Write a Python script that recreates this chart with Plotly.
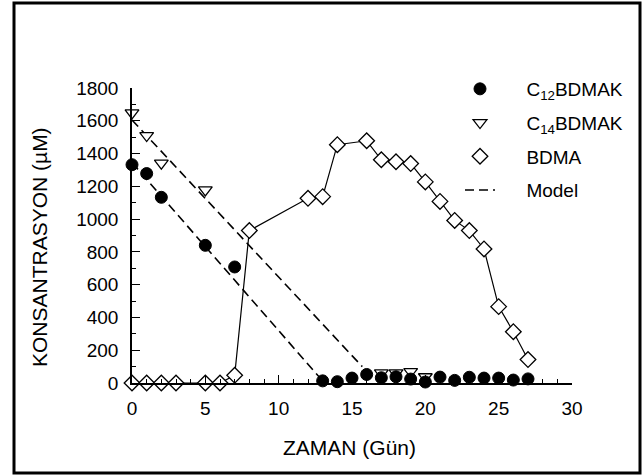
import plotly.graph_objects as go

# ---- data ----
c12_x = [0, 1, 2, 5, 7, 13, 14, 15, 16, 17, 18, 19, 20, 21, 22, 23, 24, 25, 26, 27]
c12_y = [1332, 1278, 1133, 840, 708, 13, 8, 30, 52, 32, 38, 24, 6, 36, 16, 35, 30, 30, 18, 25]

c14_x = [0, 1, 2, 5, 17, 18, 19, 20, 21, 22, 23, 24, 25, 26, 27]
c14_y = [1648, 1510, 1342, 1178, 62, 62, 70, 38, -14, -14, -14, -14, -14, -14, -14]

bdma_x = [0, 1, 2, 3, 5, 6, 7, 8, 12, 13, 14, 16, 17, 18, 19, 20, 21, 22, 23, 24, 25, 26, 27]
bdma_y = [0, 0, 0, 0, 0, 0, 47, 930, 1127, 1137, 1454, 1478, 1362, 1350, 1339, 1227, 1108,
          992, 930, 818, 466, 313, 143]

model12_x = [0, 13]
model12_y = [1345, 12]
model14_x = [0, 15.7]
model14_y = [1605, 100]

names = ["C<sub>12</sub>BDMAK", "C<sub>14</sub>BDMAK", "BDMA", "Model"]

pad = "\u00a0" * 5
FONT = "Liberation Sans, Arial, sans-serif"

fig = go.Figure()

fig.add_trace(go.Scatter(
    x=model12_x, y=model12_y, mode="lines", name=names[3],
    line=dict(color="black", width=1.6, dash="9px,5px"), showlegend=False, cliponaxis=False))
fig.add_trace(go.Scatter(
    x=model14_x, y=model14_y, mode="lines", name=names[3],
    line=dict(color="black", width=1.6, dash="9px,5px"), showlegend=False, cliponaxis=False))
fig.add_trace(go.Scatter(
    x=bdma_x, y=bdma_y, mode="lines", line=dict(color="black", width=1.2),
    showlegend=False, cliponaxis=False, hoverinfo="skip"))

fig.add_trace(go.Scatter(
    x=c14_x, y=c14_y, mode="markers", name=pad + names[1], cliponaxis=False,
    legendgroup="b", legendrank=2,
    marker=dict(symbol="triangle-down", size=12, color="white", line=dict(color="black", width=1.3))))
fig.add_trace(go.Scatter(
    x=c12_x, y=c12_y, mode="markers", name=pad + names[0], cliponaxis=False,
    legendgroup="a", legendrank=1,
    marker=dict(symbol="circle", size=12, color="black", line=dict(color="black", width=1))))
fig.add_trace(go.Scatter(
    x=bdma_x, y=bdma_y, mode="markers", name=pad + names[2], cliponaxis=False,
    legendgroup="c", legendrank=3,
    marker=dict(symbol="diamond", size=12, color="white", line=dict(color="black", width=1.3))))
# legend entry for model
fig.add_trace(go.Scatter(
    x=[None], y=[None], mode="lines", name=pad + names[3], legendgroup="d", legendrank=4,
    line=dict(color="black", width=1.6, dash="9px,5px")))

L, R, T, B = 132, 71, 88, 92
W, H = 643, 475
pw, ph = W - L - R, H - T - B

def px_x(p):
    return (p - L) / pw

def px_y(p):
    return (H - B - p) / ph

fig.update_layout(
    width=W, height=H,
    margin=dict(l=L, r=R, t=T, b=B, pad=0),
    paper_bgcolor="white", plot_bgcolor="white",
    font=dict(family=FONT, size=19, color="black"),
    showlegend=True,
    legend=dict(x=px_x(460), y=px_y(70), xanchor="left", yanchor="top",
                bgcolor="rgba(0,0,0,0)", borderwidth=0, itemwidth=30,
                traceorder="grouped", tracegroupgap=6,
                font=dict(family=FONT, size=19, color="black")),
    xaxis=dict(range=[0, 30], showgrid=False, zeroline=False, showline=True,
               linecolor="black", linewidth=1.5, ticks="inside", ticklen=8, tickwidth=1.2,
               tickcolor="black", tick0=0, dtick=5,
               minor=dict(ticks="inside", ticklen=4, tickwidth=1.2, tickcolor="black", dtick=1),
               tickfont=dict(family=FONT, size=19), ticklabelstandoff=7),
    yaxis=dict(range=[0, 1800], showgrid=False, zeroline=False, showline=True,
               linecolor="black", linewidth=1.5, ticks="inside", ticklen=8, tickwidth=1.2,
               tickcolor="black", tick0=0, dtick=200,
               minor=dict(ticks="inside", ticklen=4, tickwidth=1.2, tickcolor="black", dtick=100),
               tickfont=dict(family=FONT, size=19), ticklabelstandoff=8),
    annotations=[
        dict(text="ZAMAN (Gün)", xref="paper", yref="paper", x=px_x(349), y=px_y(447),
             xanchor="center", yanchor="middle", showarrow=False,
             font=dict(family=FONT, size=21)),
        dict(text="KONSANTRASYON (\u00b5M)", xref="paper", yref="paper", x=px_x(40), y=px_y(247),
             xanchor="center", yanchor="middle", showarrow=False, textangle=-90,
             font=dict(family=FONT, size=21)),
    ],
    shapes=[dict(type="rect", xref="paper", yref="paper",
                 x0=px_x(14), x1=px_x(640), y0=px_y(473), y1=px_y(3),
                 line=dict(color="black", width=3), fillcolor="rgba(0,0,0,0)", layer="below")],
)

fig.write_html("out.html")
